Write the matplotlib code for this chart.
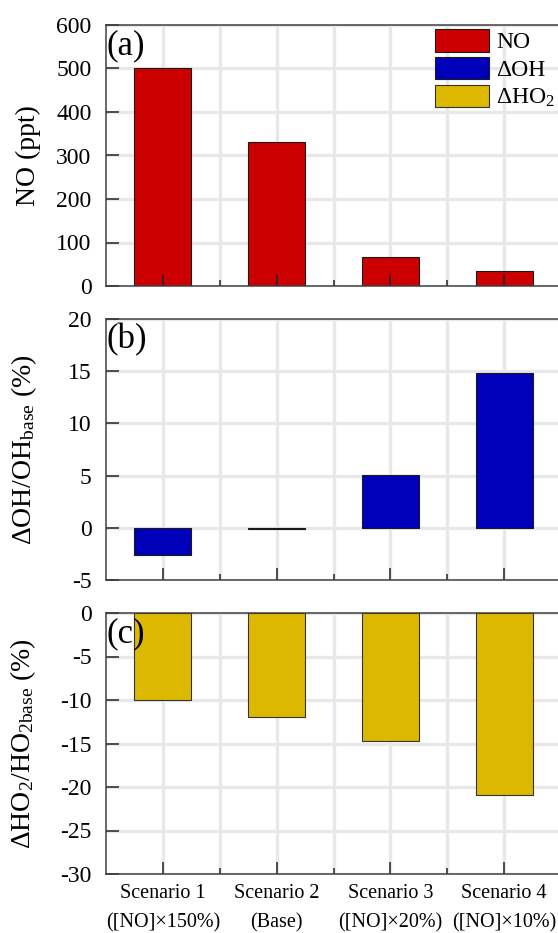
import matplotlib
matplotlib.use('Agg')
import matplotlib.pyplot as plt
from matplotlib.patches import Patch

plt.rcParams['font.family'] = ['Liberation Serif', 'DejaVu Serif']
plt.rcParams['mathtext.fontset'] = 'custom'
plt.rcParams['mathtext.rm'] = 'Liberation Serif'
plt.rcParams['mathtext.it'] = 'Liberation Serif:italic'

# data
scenarios = ['Scenario 1\n([NO]\u00d7150%)', 'Scenario 2\n(Base)',
             'Scenario 3\n([NO]\u00d720%)', 'Scenario 4\n([NO]\u00d710%)']
no_ppt = [500, 330, 66, 34]
d_oh = [-2.6, -0.15, 5.1, 14.85]
d_ho2 = [-10.0, -11.9, -14.75, -20.9]

c_no = '#cc0000'
c_oh = '#0000bb'
c_ho2 = '#ddb800'
grid_c = '#e8e8e8'

fig = plt.figure(figsize=(5.58, 9.33), dpi=100)
left = 106 / 558
width = (561 - 106) / 558
h = 261 / 933
ax_a = fig.add_axes([left, 1 - 286 / 933, width, h])
ax_b = fig.add_axes([left, 1 - 580 / 933, width, h])
ax_c = fig.add_axes([left, 1 - 874 / 933, width, h])

x = [1, 2, 3, 4]


def style(ax, ylim, yticks, letter, ylabel, labx):
    ax.set_xlim(0.5, 4.5)
    ax.set_ylim(*ylim)
    ax.set_yticks(yticks)
    ax.set_yticklabels([str(t) for t in yticks])
    ax.set_xticks(x)
    ax.set_xticks([1.5, 2.5, 3.5], minor=True)
    # grid drawn by hand so it sits under the bars but ticks stay on top
    for t in yticks:
        ax.axhline(t, color=grid_c, lw=2.4, zorder=0)
    for t in [1, 1.5, 2, 2.5, 3, 3.5, 4]:
        ax.axvline(t, color=grid_c, lw=2.4, zorder=0)
    ax.tick_params(axis='both', which='both', direction='in',
                   top=False, right=False, labelsize=17, color='#222222')
    ax.tick_params(axis='x', which='major', length=9, width=1.1, pad=7)
    ax.tick_params(axis='x', which='minor', length=4.5, width=1.1)
    ax.tick_params(axis='y', which='major', length=9, width=1.1, pad=10.5)
    for s in ax.spines.values():
        s.set_color('#404040')
        s.set_linewidth(1.1)
    ax.text(0.002, 0.985, letter, transform=ax.transAxes, fontsize=25,
            ha='left', va='top', zorder=5)
    ax.set_ylabel(ylabel, fontsize=20)
    ax.yaxis.set_label_coords(labx, 0.5)


ax_a.bar(x, no_ppt, width=0.5, color=c_no, edgecolor='#1a1a1a', lw=0.8, zorder=1)
ax_b.bar(x, d_oh, width=0.5, color=c_oh, edgecolor='#1a1a1a', lw=0.8, zorder=1)
ax_c.bar(x, d_ho2, width=0.5, color=c_ho2, edgecolor='#333333', lw=0.8, zorder=1)

style(ax_a, (0, 600), [0, 100, 200, 300, 400, 500, 600], '(a)',
      'NO (ppt)', -0.143)
style(ax_b, (-5, 20), [-5, 0, 5, 10, 15, 20], '(b)',
      r'$\Delta$OH/OH$_{\mathrm{base}}$ (%)', -0.147)
style(ax_c, (-30, 0), [-30, -25, -20, -15, -10, -5, 0], '(c)',
      r'$\Delta$HO$_2$/HO$_{2\mathrm{base}}$ (%)', -0.149)

ax_a.set_xticklabels([])
ax_b.set_xticklabels([])
ax_c.set_xticklabels(scenarios, fontsize=14.5, linespacing=1.75)

handles = [Patch(facecolor=c_no, edgecolor='#1a1a1a', lw=0.8),
           Patch(facecolor=c_oh, edgecolor='#1a1a1a', lw=0.8),
           Patch(facecolor=c_ho2, edgecolor='#333333', lw=0.8)]
labels = ['NO', '\u0394OH', r'$\Delta$HO$_2$']
ax_a.legend(handles, labels, loc='upper left', bbox_to_anchor=(0.723, 0.985),
            frameon=False, fontsize=17, borderpad=0, borderaxespad=0,
            handlelength=2.3, handleheight=1.1, labelspacing=0.15,
            handletextpad=0.3)

fig.savefig('out.png', dpi=100)
